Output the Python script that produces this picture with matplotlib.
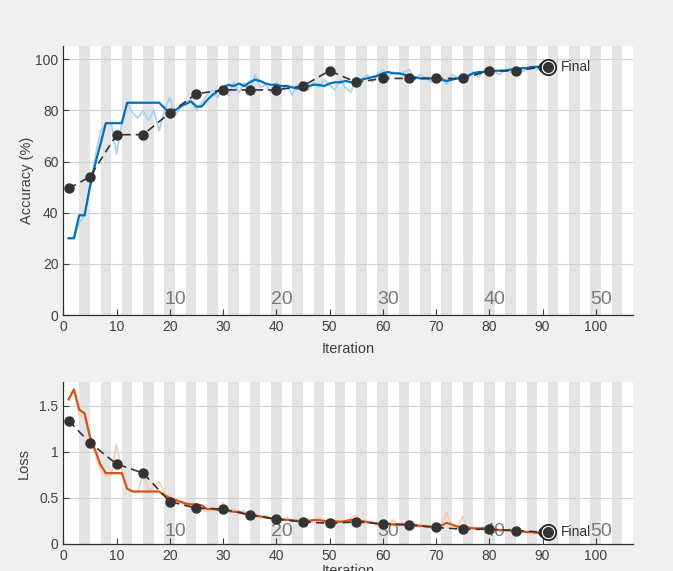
import matplotlib
matplotlib.use("Agg")
import matplotlib.pyplot as plt
import numpy as np

plt.rcParams['font.family'] = ['Liberation Sans', 'DejaVu Sans']

# iterations 1..91
iters = list(range(1, 92))

acc_raw = [30, 30, 36, 39, 50, 62, 72, 75, 75, 63,
           75, 83, 79, 77, 80, 76, 80, 72, 80, 85,
           78, 81, 83, 84, 80, 83, 86, 88, 85, 89,
           86, 91, 87, 91, 88, 94, 89, 90, 87, 91,
           88, 90, 86, 90, 89, 88, 91, 89, 92, 90,
           88, 92, 89, 87, 93, 92, 94, 91, 94, 96,
           93, 95, 94, 95, 96, 92, 94, 93, 91, 94,
           93, 90, 94, 93, 91, 94, 95, 93, 96, 94,
           95, 94, 96, 95, 97, 95, 96, 97, 96, 97, 97]

acc_smooth = [30, 30, 39, 39, 50, 59, 67, 75, 75, 75,
              75, 83, 83, 83, 83, 83, 83, 83, 81, 79,
              80, 81.5, 82.5, 83.5, 81.5, 81.5, 84, 86, 87.5, 89,
              90, 89.5, 90.5, 89.5, 91, 92, 91.5, 90.5, 90, 90,
              89.5, 89.5, 89, 88.5, 89, 89.5, 90, 90, 89.5, 90.5,
              91, 91, 91.5, 91, 91, 92, 92.5, 93, 93.5, 94.5,
              95, 94.5, 94.5, 94, 93.5, 93, 92.5, 92.5, 92.5, 92.5,
              92, 91.5, 92, 92.5, 92.5, 93.5, 94.5, 95, 95, 95.5,
              95.5, 95.5, 95.5, 96, 96, 96.5, 96.5, 97, 97, 97, 97]

loss_raw = [1.57, 1.68, 1.40, 1.38, 1.12, 0.98, 0.80, 0.74, 0.75, 1.08,
            0.80, 0.60, 0.58, 0.56, 0.78, 0.58, 0.62, 0.68, 0.55, 0.52,
            0.47, 0.45, 0.42, 0.40, 0.44, 0.38, 0.35, 0.40, 0.36, 0.45,
            0.35, 0.38, 0.33, 0.36, 0.30, 0.32, 0.28, 0.31, 0.27, 0.28,
            0.26, 0.29, 0.24, 0.27, 0.23, 0.27, 0.24, 0.29, 0.23, 0.26,
            0.22, 0.25, 0.24, 0.28, 0.31, 0.24, 0.22, 0.24, 0.20, 0.23,
            0.21, 0.26, 0.19, 0.23, 0.20, 0.22, 0.18, 0.21, 0.17, 0.20,
            0.22, 0.34, 0.20, 0.18, 0.30, 0.17, 0.18, 0.15, 0.19, 0.14,
            0.17, 0.14, 0.15, 0.13, 0.15, 0.12, 0.14, 0.11, 0.13, 0.11, 0.12]

loss_smooth = [1.57, 1.68, 1.46, 1.42, 1.17, 1.02, 0.86, 0.77, 0.77, 0.77,
               0.77, 0.60, 0.57, 0.57, 0.57, 0.57, 0.57, 0.57, 0.53, 0.50,
               0.48, 0.46, 0.44, 0.43, 0.43, 0.42, 0.38, 0.38, 0.37, 0.37,
               0.36, 0.35, 0.35, 0.33, 0.32, 0.31, 0.30, 0.29, 0.28, 0.27,
               0.27, 0.26, 0.26, 0.25, 0.25, 0.25, 0.26, 0.26, 0.25, 0.25,
               0.25, 0.24, 0.25, 0.26, 0.26, 0.25, 0.24, 0.23, 0.22, 0.22,
               0.22, 0.21, 0.21, 0.21, 0.21, 0.20, 0.20, 0.19, 0.19, 0.19,
               0.20, 0.23, 0.21, 0.19, 0.18, 0.18, 0.17, 0.17, 0.17, 0.16,
               0.16, 0.15, 0.15, 0.15, 0.14, 0.14, 0.13, 0.13, 0.12, 0.12, 0.12]

# validation every 5 iterations
val_iters = [1, 5, 10, 15, 20, 25, 30, 35, 40, 45, 50, 55, 60, 65, 70, 75, 80, 85, 90]
val_acc = [49.5, 54, 70.5, 70.5, 79, 86.5, 88, 88, 88, 89.5, 95.5, 91,
           92.5, 92.5, 92.5, 92.5, 95.5, 95.5, 97]
val_loss = [1.34, 1.10, 0.87, 0.77, 0.46, 0.39, 0.38, 0.315, 0.27, 0.24, 0.225,
            0.24, 0.22, 0.21, 0.18, 0.16, 0.16, 0.145, 0.13]
final_iter = 91
final_acc = 97
final_loss = 0.13

epoch_labels = [10, 20, 30, 40, 50]
iters_per_epoch = 2
xmax = 107

fig = plt.figure(figsize=(6.73, 5.71), dpi=100, facecolor='#f0f0f0')
ax1 = fig.add_axes([0.094, 0.4483, 0.8466, 0.4717])
ax2 = fig.add_axes([0.094, 0.0473, 0.8466, 0.2832])

txt = '#404040'


def style(ax, ylim, yticks, yticklabels, xpad):
    ax.set_facecolor('white')
    ax.set_xlim(0, xmax)
    ax.set_ylim(*ylim)
    # epoch shading
    for s in np.arange(3, xmax, 2 * iters_per_epoch):
        ax.axvspan(s, s + iters_per_epoch, color='#e4e4e4', lw=0, zorder=0)
    for t in yticks:
        ax.axhline(t, color='#d2d2d2', lw=0.8, zorder=0.5)
    ax.set_xticks(range(0, 101, 10))
    ax.set_yticks(yticks)
    ax.set_yticklabels(yticklabels)
    ax.tick_params(direction='in', length=4, colors=txt, labelsize=10,
                   top=False, right=False)
    for sp in ['top', 'right']:
        ax.spines[sp].set_visible(False)
    for sp in ['left', 'bottom']:
        ax.spines[sp].set_color('#303030')
        ax.spines[sp].set_linewidth(0.9)
    for e in epoch_labels:
        ax.text(e * iters_per_epoch + 1, 0.025, str(e), transform=ax.get_xaxis_transform(),
                ha='center', va='bottom', fontsize=14, color='#7a7a7a', zorder=1)
    ax.set_xlabel('Iteration', color=txt, fontsize=10.5, labelpad=xpad)


style(ax1, (0, 105.3), [0, 20, 40, 60, 80, 100], ['0', '20', '40', '60', '80', '100'], 6)
style(ax2, (0, 1.757), [0, 0.5, 1, 1.5], ['0', '0.5', '1', '1.5'], 1)

ax1.plot(iters, acc_raw, color='#a9d0ee', lw=1.2, zorder=2)
ax1.plot(iters, acc_smooth, color='#0072bd', lw=1.6, zorder=3)
ax1.plot(val_iters, val_acc, color='#333333', ls=(0, (5, 3)), lw=1.2,
         marker='o', ms=6.5, mfc='#333333', mec='#333333', zorder=4)
ax1.plot(final_iter, final_acc, 'o', ms=11, mfc='white', mec='#222222', mew=1.3, zorder=5)
ax1.plot(final_iter, final_acc, 'o', ms=7, color='#333333', zorder=6)
ax1.text(final_iter + 2.5, final_acc, 'Final', va='center', ha='left', fontsize=10, color='#333333')
ax1.set_ylabel('Accuracy (%)', color=txt, fontsize=10.5, labelpad=1)

ax2.plot(iters, loss_raw, color='#f6cbb0', lw=1.2, zorder=2)
ax2.plot(iters, loss_smooth, color='#d95319', lw=1.6, zorder=3)
ax2.plot(val_iters, val_loss, color='#333333', ls=(0, (5, 3)), lw=1.2,
         marker='o', ms=6.5, mfc='#333333', mec='#333333', zorder=4)
ax2.plot(final_iter, final_loss, 'o', ms=11, mfc='white', mec='#222222', mew=1.3, zorder=5)
ax2.plot(final_iter, final_loss, 'o', ms=7, color='#333333', zorder=6)
ax2.text(final_iter + 2.5, final_loss, 'Final', va='center', ha='left', fontsize=10, color='#333333')
ax2.set_ylabel('Loss', color=txt, fontsize=10.5, labelpad=6)

fig.savefig('out.png', dpi=100, facecolor=fig.get_facecolor())
